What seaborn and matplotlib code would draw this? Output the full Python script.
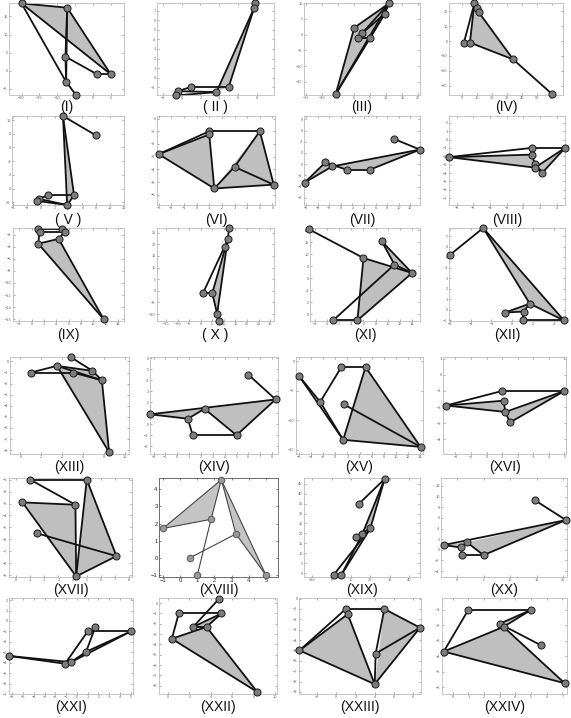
import pandas as pd
import matplotlib
matplotlib.use("Agg")
import matplotlib.pyplot as plt
from matplotlib.ticker import MultipleLocator
import seaborn as sns

# ---- point coordinates, drawn segments (index pairs), shaded polygons ----
x_I = [-20.0, -7.2, -7.7, 1.2, 5.0, -7.5, -4.8]
y_I = [18.6, 17.4, 3.9, -1.0, -1.0, -3.1, -6.6]
e_I = [(0, 1), (1, 4), (4, 0), (0, 5), (5, 6), (1, 2), (2, 5), (1, 5), (2, 3), (3, 4)]
f_I = [(0, 1, 4)]

x_II = [7.8, 7.7, 5.0, 3.7, 1.0, -0.35, -0.6]
y_II = [7.75, 7.3, -0.95, -1.5, -0.95, -1.4, -1.85]
e_II = [(0, 1), (1, 2), (1, 3), (2, 4), (4, 5), (5, 3), (6, 3), (5, 6)]
f_II = [(1, 2, 3)]

x_III = [10.8, 9.5, 0.0, 2.4, 1.1, 5.0, -5.8]
y_III = [9.9, 6.6, 2.2, 0.4, -1.0, -1.0, -18.9]
e_III = [(6, 2), (2, 0), (0, 6), (0, 3), (0, 1), (1, 3), (1, 5), (4, 5), (4, 3), (5, 6)]
f_III = [(6, 2, 0)]

x_IV = [8.0, 10.0, 11.0, 1.0, 5.0, 34.0, 60.0]
y_IV = [25.3, 22.5, 19.3, -1.0, -1.0, -12.3, -35.5]
e_IV = [(0, 3), (3, 4), (4, 0), (0, 1), (1, 2), (0, 2), (4, 5), (2, 5), (5, 6)]
f_IV = [(4, 0, 2, 5)]

x_V = [3.2, 7.9, 4.8, 1.0, -0.3, -0.6, 3.8]
y_V = [10.6, 7.8, -1.0, -1.0, -1.5, -1.8, -2.4]
e_V = [(0, 1), (0, 2), (0, 6), (2, 3), (3, 4), (4, 6), (5, 6), (4, 5), (6, 2)]
f_V = [(0, 2, 6)]

x_VI = [-3.0, 1.0, 1.0, 1.4, 5.0, 3.0, 6.1]
y_VI = [-2.8, -1.0, -1.25, -5.5, -1.0, -3.8, -5.2]
e_VI = [(0, 1), (0, 2), (1, 2), (1, 4), (2, 3), (0, 3), (3, 5), (5, 4), (4, 6), (3, 6), (5, 6)]
f_VI = [(0, 2, 3), (3, 4, 6)]

x_VII = [-6.3, -2.7, -1.5, 1.0, 5.0, 9.2, 13.7]
y_VII = [-3.3, 0.3, -0.4, -1.0, -1.0, 4.5, 2.6]
e_VII = [(0, 1), (1, 3), (3, 4), (4, 6), (6, 2), (2, 0), (1, 2), (5, 6)]
f_VII = [(0, 1, 2), (2, 6, 4, 3)]

x_VIII = [-8.9, 1.0, 5.0, 1.0, 1.4, 1.4, 2.3]
y_VIII = [-2.1, -1.0, -1.0, -1.8, -2.9, -3.35, -3.95]
e_VIII = [(0, 1), (1, 2), (0, 3), (3, 4), (4, 5), (0, 5), (5, 2), (2, 6), (6, 4), (5, 6)]
f_VIII = [(0, 3, 5), (5, 2, 6)]

x_IX = [1.0, 5.0, 1.3, 5.4, 1.1, 4.4, 11.7]
y_IX = [-1.0, -1.0, -1.5, -1.5, -3.5, -2.7, -16.0]
e_IX = [(0, 1), (2, 3), (0, 2), (1, 3), (2, 4), (3, 5), (4, 5), (4, 6), (5, 6)]
f_IX = [(4, 5, 6)]

x_X = [12.3, 11.7, 10.3, 1.0, 5.0, 7.1, 7.8]
y_X = [27.0, 22.1, 18.9, -1.0, -1.0, -9.9, -12.9]
e_X = [(0, 1), (1, 2), (2, 3), (3, 4), (4, 1), (1, 5), (4, 5), (5, 6)]
f_X = [(4, 1, 5)]

x_XI = [-3.0, 6.0, 11.1, 9.0, 14.0, 1.0, 5.0]
y_XI = [14.2, 9.4, 8.3, 12.2, 6.9, -1.0, -1.0]
e_XI = [(0, 1), (1, 4), (1, 6), (6, 4), (5, 6), (5, 2), (2, 4), (3, 4), (3, 2)]
f_XI = [(1, 4, 6), (3, 4, 2)]

x_XII = [-6.0, -2.8, 1.7, 1.1, -0.7, 1.0, 5.0]
y_XII = [5.25, 7.8, 0.6, -0.15, -0.25, -1.0, -1.0]
e_XII = [(0, 1), (1, 6), (1, 2), (2, 6), (4, 2), (4, 3), (3, 2), (3, 5), (5, 6)]
f_XII = [(1, 2, 6), (4, 2, 3)]

x_XIII = [4.8, 3.5, 1.0, 5.0, 6.9, 7.8, 8.5]
y_XIII = [0.4, -0.4, -1.0, -1.0, -0.85, -1.7, -8.2]
e_XIII = [(0, 4), (4, 5), (2, 1), (2, 3), (1, 4), (3, 5), (1, 6), (5, 6), (1, 5)]
f_XIII = [(1, 5, 6), (1, 4, 5)]

x_XIV = [-2.3, 0.9, 2.3, 1.3, 5.0, 6.0, 8.3]
y_XIV = [0.9, 0.5, 1.4, -1.0, -1.0, 4.5, 2.25]
e_XIV = [(0, 6), (0, 1), (1, 2), (1, 3), (3, 4), (4, 2), (4, 6), (5, 6)]
f_XIV = [(0, 1, 2), (2, 4, 6)]

x_XV = [-6.0, -2.5, 1.0, 5.0, 1.4, 1.3, 14.1]
y_XV = [-2.5, -6.9, -1.0, -1.0, -7.3, -13.3, -14.5]
e_XV = [(0, 1), (1, 2), (1, 5), (0, 5), (2, 3), (3, 5), (3, 6), (5, 6), (4, 6)]
f_XV = [(3, 5, 6)]

x_XVI = [-2.6, 1.0, 5.0, 1.1, 1.2, 1.5]
y_XVI = [-1.9, -1.0, -1.0, -1.6, -2.3, -2.95]
e_XVI = [(0, 1), (1, 2), (0, 3), (3, 4), (0, 4), (4, 2), (2, 5), (5, 4)]
f_XVI = [(0, 3, 4), (4, 2, 5)]

x_XVII = [1.0, 5.0, 0.45, 4.2, 1.5, 4.25, 7.1]
y_XVII = [-1.0, -1.0, -2.9, -3.1, -5.5, -9.1, -7.4]
e_XVII = [(0, 1), (0, 3), (2, 3), (3, 5), (2, 5), (1, 5), (1, 6), (5, 6), (4, 6)]
f_XVII = [(2, 3, 5), (1, 5, 6)]

x_XVIII = [2.4, -1.0, 1.8, 0.6, 3.25, 1.0, 5.0]
y_XVIII = [4.55, 1.72, 2.25, 0.03, 1.4, -1.0, -1.0]
e_XVIII = [(0, 1), (1, 2), (2, 0), (2, 5), (3, 4), (4, 0), (0, 6), (4, 6)]
f_XVIII = [(0, 1, 2), (0, 4, 6)]

x_XIX = [27.4, 14.0, 20.0, 15.9, 12.4, 1.0, 5.0]
y_XIX = [47.4, 34.8, 22.5, 19.7, 18.3, -1.0, -1.0]
e_XIX = [(1, 0), (0, 3), (0, 2), (3, 4), (4, 2), (5, 2), (6, 3), (5, 6), (6, 2)]
f_XIX = [(0, 3, 2)]

x_XX = [-2.5, 0.7, 1.9, 1.0, 5.0, 14.7, 20.5]
y_XX = [0.9, 0.45, 1.4, -1.0, -1.0, 9.3, 5.6]
e_XX = [(0, 6), (0, 1), (1, 2), (1, 3), (3, 4), (4, 2), (4, 6), (5, 6)]
f_XX = [(0, 1, 2), (2, 4, 6)]

x_XXI = [-6.3, -1.1, -0.55, 0.85, 1.0, 1.7, 5.0]
y_XXI = [-3.35, -4.1, -3.95, -2.95, -1.0, -0.6, -1.0]
e_XXI = [(0, 1), (0, 2), (1, 2), (1, 4), (4, 6), (2, 3), (3, 5), (3, 6), (2, 6)]
f_XXI = [(2, 3, 6)]

x_XXII = [4.75, 1.0, 5.0, 2.35, 3.6, 0.35, 8.35]
y_XXII = [0.4, -1.0, -1.0, -2.3, -2.3, -3.45, -8.6]
e_XXII = [(0, 3), (3, 4), (3, 2), (2, 4), (1, 2), (1, 5), (5, 4), (5, 6), (4, 6)]
f_XXII = [(5, 4, 6), (3, 2, 4)]

x_XXIII = [1.0, 5.0, 1.2, -3.8, 4.0, 4.1, 8.7]
y_XXIII = [-1.0, -1.0, -1.5, -5.0, -8.25, -5.3, -2.8]
e_XXIII = [(3, 0), (0, 1), (3, 2), (2, 4), (3, 4), (1, 5), (5, 4), (1, 6), (6, 4), (5, 6)]
f_XXIII = [(3, 2, 4), (1, 6, 4)]

x_XXIV = [-0.57, 1.0, 5.0, 3.0, 3.25, 5.65, 7.15]
y_XXIV = [-3.7, -1.0, -1.0, -1.9, -2.1, -3.3, -5.75]
e_XXIV = [(0, 1), (1, 2), (2, 3), (3, 4), (2, 4), (3, 5), (0, 4), (0, 6), (4, 6)]
f_XXIV = [(0, 4, 6), (3, 2, 4)]

labels = ["(I)", "( II )", "(III)", "(IV)", "( V )", "(VI)", "(VII)", "(VIII)",
          "(IX)", "( X )", "(XI)", "(XII)", "(XIII)", "(XIV)", "(XV)", "(XVI)",
          "(XVII)", "(XVIII)", "(XIX)", "(XX)", "(XXI)", "(XXII)", "(XXIII)", "(XXIV)"]

panels = [
    (x_I, y_I, e_I, f_I), (x_II, y_II, e_II, f_II), (x_III, y_III, e_III, f_III),
    (x_IV, y_IV, e_IV, f_IV), (x_V, y_V, e_V, f_V), (x_VI, y_VI, e_VI, f_VI),
    (x_VII, y_VII, e_VII, f_VII), (x_VIII, y_VIII, e_VIII, f_VIII), (x_IX, y_IX, e_IX, f_IX),
    (x_X, y_X, e_X, f_X), (x_XI, y_XI, e_XI, f_XI), (x_XII, y_XII, e_XII, f_XII),
    (x_XIII, y_XIII, e_XIII, f_XIII), (x_XIV, y_XIV, e_XIV, f_XIV), (x_XV, y_XV, e_XV, f_XV),
    (x_XVI, y_XVI, e_XVI, f_XVI), (x_XVII, y_XVII, e_XVII, f_XVII), (x_XVIII, y_XVIII, e_XVIII, f_XVIII),
    (x_XIX, y_XIX, e_XIX, f_XIX), (x_XX, y_XX, e_XX, f_XX), (x_XXI, y_XXI, e_XXI, f_XXI),
    (x_XXII, y_XXII, e_XXII, f_XXII), (x_XXIII, y_XXIII, e_XXIII, f_XXIII), (x_XXIV, y_XXIV, e_XXIV, f_XXIV),
]

# axis limits and tick steps: (xmin, xmax, xstep, ymin, ymax, ystep)
limits = [
    (-23.5, 8.7, 5, -6.7, 18.7, 5), (-2.6, 9.8, 2, -1.8, 7.8, 1),
    (-15.7, 20.5, 5, -19.2, 10.05, 5), (-9, 67.4, 10, -36.2, 25.6, 10),
    (-4.15, 12.0, 2, -2.4, 10.6, 2), (-3.13, 6.2, 1, -6.8, 0.2, 1),
    (-6.4, 13.7, 2, -7.3, 8.6, 2), (-8.9, 5.0, 2, -7.8, 2.8, 1),
    (-3.0, 15.0, 2, -16.3, -0.9, 2), (-18.9, 31.7, 5, -13, 27, 5),
    (-2.8, 15.3, 2, -1.1, 14.4, 2), (-6.1, 5.1, 2, -1.05, 7.8, 1),
    (-1.0, 10.4, 2, -8.35, 0.4, 1), (-2.3, 8.5, 1, -2.7, 6.1, 1),
    (-6.5, 14.5, 2, -15.7, 0.7, 5), (-2.8, 5.1, 1, -4.9, 1.1, 1),
    (-0.5, 8.2, 1, -9.15, -0.86, 1), (-1.23, 5.7, 1, -1.1, 4.65, 1),
    (-14.3, 45.7, 10, -2, 47.9, 5), (-3.0, 20.7, 5, -5.1, 13.5, 2),
    (-6.3, 5.2, 1, -7.0, 2.2, 1), (-0.85, 10.2, 2, -8.8, 0.5, 1),
    (-3.85, 8.8, 2, -9.2, 0.06, 1), (-0.68, 7.3, 1, -6.45, -0.23, 1),
]

# panel boxes in pixels (left, right) per column of each row, row (top, bottom), label y
cols = [
    [(9, 124), (157, 274), (304, 420), (449, 563)],
    [(12, 124), (157, 275), (304, 420), (449, 565)],
    [(13, 124), (157, 274), (310, 420), (449, 565)],
    [(10, 129), (150, 278), (296, 423), (443, 566)],
    [(9, 132), (159, 278), (304, 420), (441, 567)],
    [(9, 133), (159, 277), (299, 421), (442, 567)],
]
rows = [(3, 95), (116, 205), (228, 321), (357, 454), (478, 577), (598, 694)]
label_y = [107, 220, 335, 467, 590, 707]

W, H = 571, 718
sns.set_theme(style="white")
plt.rcParams['font.family'] = ['Liberation Sans', 'DejaVu Sans']

fig = plt.figure(figsize=(W / 100, H / 100), dpi=100)

for k, (xs, ys, edges, fills) in enumerate(panels):
    r, c = divmod(k, 4)
    l, rr = cols[r][c]
    t, b = rows[r]
    ax = fig.add_axes([l / W, 1 - b / H, (rr - l) / W, (b - t) / H])
    odd = (k == 17)  # panel XVIII is drawn thinner in the original

    for poly in fills:
        ax.fill([xs[i] for i in poly], [ys[i] for i in poly],
                color='#c4c4c4' if odd else '#bfbfbf', lw=0, zorder=1)

    seg = pd.DataFrame([(n, xs[i], ys[i]) for n, (a, bb) in enumerate(edges) for i in (a, bb)],
                       columns=['seg', 'x', 'y'])
    sns.lineplot(data=seg, x='x', y='y', units='seg', estimator=None, sort=False,
                 color='#444444' if odd else '#111111', lw=0.8 if odd else 1.3,
                 ax=ax, zorder=2, clip_on=False)
    sns.scatterplot(x=xs, y=ys, ax=ax, s=22 if odd else 26,
                    color='#9a9a9a' if odd else '#7c7c7c',
                    edgecolor='#555555' if odd else '#1a1a1a', linewidth=0.7,
                    zorder=3, clip_on=False)

    x0, x1, xs_, y0, y1, ys_ = limits[k]
    ax.set_xlim(x0, x1)
    ax.set_ylim(y0, y1)
    ax.xaxis.set_major_locator(MultipleLocator(xs_))
    ax.yaxis.set_major_locator(MultipleLocator(ys_))
    ax.set_xlabel('')
    ax.set_ylabel('')
    ax.tick_params(axis='both', direction='in', length=1.5, width=0.4, pad=1.0,
                   labelsize=4.2 if odd else 2.8,
                   colors='#222222' if odd else '#666666',
                   top=True, right=True, bottom=True, left=True)
    for sp in ax.spines.values():
        sp.set_color('#555555' if odd else '#bbbbbb')
        sp.set_linewidth(0.6)

    fig.text((l + rr) / 2 / W, 1 - label_y[r] / H, labels[k],
             ha='center', va='center', fontsize=10, color='#111111')

fig.savefig('out.png', dpi=100)
